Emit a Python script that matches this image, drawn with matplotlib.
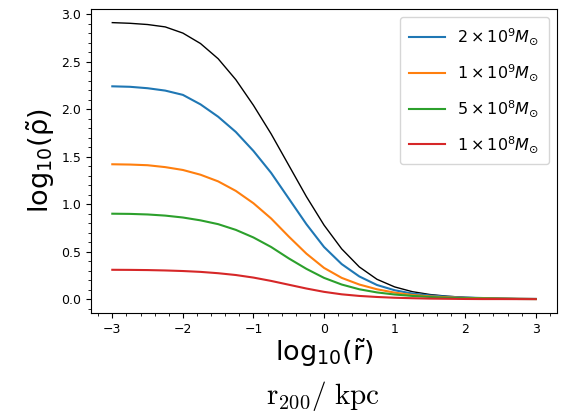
import matplotlib
matplotlib.use("Agg")
import matplotlib.pyplot as plt

# log10 of radius (scaled by r200)
log_r = [-3.0, -2.75, -2.5, -2.25, -2.0, -1.75, -1.5, -1.25, -1.0, -0.75, -0.5, -0.25,
         0.0, 0.25, 0.5, 0.75, 1.0, 1.25, 1.5, 1.75, 2.0, 2.25, 2.5, 2.75, 3.0]

# log10 of scaled density for each halo mass
rho_ref = [2.91, 2.903, 2.89, 2.865, 2.80, 2.69, 2.53, 2.31, 2.04, 1.74, 1.41, 1.08,
           0.78, 0.53, 0.34, 0.21, 0.13, 0.08, 0.05, 0.032, 0.02, 0.014, 0.009, 0.006, 0.004]
rho_2e9 = [2.24, 2.235, 2.22, 2.195, 2.15, 2.05, 1.92, 1.76, 1.56, 1.33, 1.06, 0.79,
           0.55, 0.37, 0.24, 0.15, 0.095, 0.06, 0.04, 0.027, 0.018, 0.013, 0.009, 0.006, 0.004]
rho_1e9 = [1.42, 1.417, 1.41, 1.39, 1.36, 1.31, 1.24, 1.14, 1.01, 0.85, 0.66, 0.48,
           0.33, 0.225, 0.155, 0.105, 0.07, 0.045, 0.03, 0.02, 0.014, 0.01, 0.007, 0.005, 0.003]
rho_5e8 = [0.90, 0.898, 0.892, 0.88, 0.86, 0.83, 0.79, 0.73, 0.65, 0.55, 0.43, 0.32,
           0.225, 0.155, 0.105, 0.072, 0.05, 0.035, 0.024, 0.016, 0.011, 0.008, 0.005, 0.003, 0.002]
rho_1e8 = [0.31, 0.309, 0.307, 0.303, 0.297, 0.288, 0.274, 0.255, 0.228, 0.193, 0.153, 0.113,
           0.078, 0.052, 0.035, 0.024, 0.016, 0.011, 0.007, 0.005, 0.003, 0.002, 0.002, 0.0015, 0.001]

mass_labels = [r"$2\times10^9M_{\odot}$", r"$1\times10^9M_{\odot}$",
               r"$5\times10^8M_{\odot}$", r"$1\times10^8M_{\odot}$"]

fig = plt.figure(figsize=(5.66, 4.19), dpi=100)
ax = fig.add_axes([0.161, 0.253, 0.823, 0.726])

ax.plot(log_r, rho_ref, color="k", lw=1.0)
for ys, lab in zip([rho_2e9, rho_1e9, rho_5e8, rho_1e8], mass_labels):
    ax.plot(log_r, ys, lw=1.5, label=lab)

ax.minorticks_on()
ax.tick_params(labelsize=9)
ax.set_yticks([0.0, 0.5, 1.0, 1.5, 2.0, 2.5, 3.0])
ax.legend(loc="upper right", fontsize=11.5, handlelength=2.2, labelspacing=0.95,
          borderpad=0.6)

ax.set_ylabel(r"$\mathrm{log_{10}(\tilde{\rho})}$", fontsize=19.5, labelpad=3)
ax.set_xlabel(r"$\mathrm{log_{10}(\tilde{r})}$", fontsize=19.5, labelpad=1)
fig.text(0.57, 0.035, r"$\mathrm{r_{200}/\ kpc}$", fontsize=21, ha="center",
         math_fontfamily="cm")

fig.savefig("out.png", dpi=100)
